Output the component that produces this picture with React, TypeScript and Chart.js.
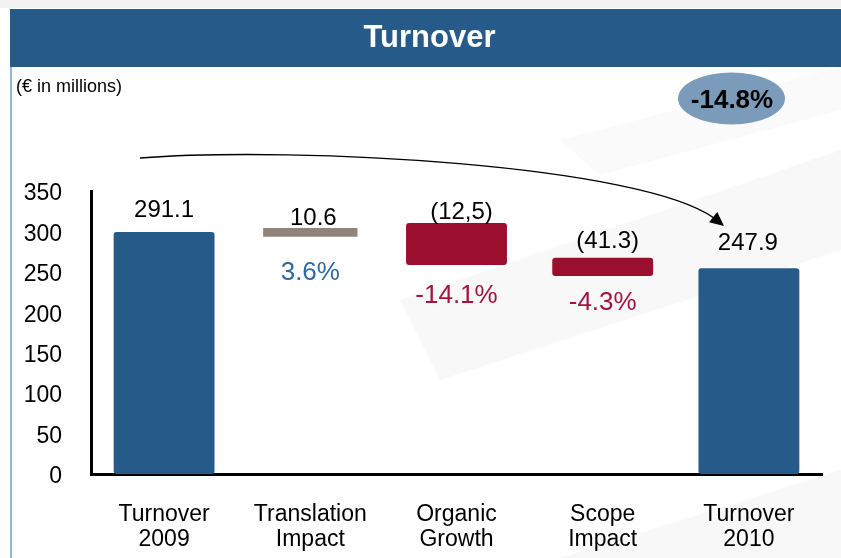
import React, { useEffect, useRef } from "react";
import { Chart, registerables } from "chart.js";

Chart.register(...registerables);

// ---- data ----
const categories: string[][] = [
  ["Turnover", "2009"],
  ["Translation", "Impact"],
  ["Organic", "Growth"],
  ["Scope", "Impact"],
  ["Turnover", "2010"],
];
const barKinds = ["total", "increase", "decrease", "decrease", "total"];
const barLow = [0, 293.5, 258.5, 245, 0];
const barHigh = [299.3, 304.2, 310.4, 267.5, 254.4];
const valueLabels = ["291.1", "10.6", "(12,5)", "(41.3)", "247.9"];
const changeLabels = [null, "3.6%", "-14.1%", "-4.3%", null];
const totalChange = "-14.8%";
const yTickValues = [0, 50, 100, 150, 200, 250, 300, 350];
const chartTitle = "Turnover";
const unitNote = "(\u20AC in millions)";

// ---- styles ----
const FONT = "'Liberation Sans', Arial, Helvetica, sans-serif";
const BLUE = "#265B89";
const GRAY = "#8F837A";
const RED = "#9B0E2D";
const kindColor: Record<string, string> = { total: BLUE, increase: GRAY, decrease: RED };
const changeColor: Record<string, string> = { increase: "#2F6A9E", decrease: "#A3143C" };
// label placement (pixel offsets from bar edges)
const valueAbove = [24, 12, 13, 18, 27];
const valueDx = [0, 3, 5, 5, -1];
const changeBelow = [0, 34, 29, 25, 0];

const decorPlugin = {
  id: "decor",
  beforeDraw(chart: any) {
    const ctx = chart.ctx as CanvasRenderingContext2D;
    const W = chart.width;
    const H = chart.height;
    ctx.save();
    ctx.fillStyle = "#ffffff";
    ctx.fillRect(0, 0, W, H);
    // faint watermark shapes
    ctx.fillStyle = "#f8f8f8";
    ctx.beginPath();
    ctx.moveTo(400, 300);
    ctx.lineTo(841, 150);
    ctx.lineTo(841, 250);
    ctx.lineTo(440, 380);
    ctx.closePath();
    ctx.fill();
    ctx.beginPath();
    ctx.moveTo(560, 558);
    ctx.lineTo(841, 470);
    ctx.lineTo(841, 558);
    ctx.closePath();
    ctx.fill();
    ctx.fillStyle = "#fafafa";
    ctx.beginPath();
    ctx.moveTo(560, 140);
    ctx.lineTo(841, 67);
    ctx.lineTo(841, 110);
    ctx.lineTo(600, 175);
    ctx.closePath();
    ctx.fill();
    // top strip
    ctx.fillStyle = "#f2f2f2";
    ctx.fillRect(0, 0, W, 8);
    // title band
    ctx.fillStyle = BLUE;
    ctx.fillRect(10, 9, W - 10, 58);
    ctx.fillStyle = "#ffffff";
    ctx.font = `bold 31px ${FONT}`;
    ctx.textAlign = "center";
    ctx.textBaseline = "alphabetic";
    ctx.fillText(chartTitle, 429.5, 47);
    // left frame line
    ctx.strokeStyle = "#6E9CC8";
    ctx.lineWidth = 1.5;
    ctx.beginPath();
    ctx.moveTo(11, 67);
    ctx.lineTo(11, H);
    ctx.stroke();
    // unit note
    ctx.fillStyle = "#000000";
    ctx.font = `18px ${FONT}`;
    ctx.textAlign = "left";
    ctx.fillText(unitNote, 16, 92);
    // ellipse with total change
    ctx.fillStyle = "#7B9BBA";
    ctx.beginPath();
    ctx.ellipse(731.5, 98.5, 53.5, 26, 0, 0, Math.PI * 2);
    ctx.fill();
    ctx.fillStyle = "#000000";
    ctx.font = `bold 26px ${FONT}`;
    ctx.textAlign = "center";
    ctx.fillText(totalChange, 732, 107.5);
    // curved arrow
    ctx.strokeStyle = "#000000";
    ctx.lineWidth = 1.4;
    ctx.beginPath();
    ctx.moveTo(140, 158);
    ctx.bezierCurveTo(300, 146, 640, 165, 714, 218);
    ctx.stroke();
    const tipX = 724, tipY = 226;
    const ang = Math.atan2(tipY - 217, tipX - 713);
    const len = 14, half = 6.5;
    const bx = tipX - len * Math.cos(ang), by = tipY - len * Math.sin(ang);
    ctx.fillStyle = "#000000";
    ctx.beginPath();
    ctx.moveTo(tipX, tipY);
    ctx.lineTo(bx + half * Math.sin(ang), by - half * Math.cos(ang));
    ctx.lineTo(bx - half * Math.sin(ang), by + half * Math.cos(ang));
    ctx.closePath();
    ctx.fill();
    ctx.restore();
  },
  afterDatasetsDraw(chart: any) {
    const ctx = chart.ctx as CanvasRenderingContext2D;
    ctx.save();
    ctx.textAlign = "center";
    ctx.textBaseline = "alphabetic";
    categories.forEach((_, i) => {
      let el: any = null;
      chart.data.datasets.forEach((ds: any, di: number) => {
        if (ds.data[i] != null) el = chart.getDatasetMeta(di).data[i];
      });
      if (!el) return;
      const top = Math.min(el.y, el.base);
      const bottom = Math.max(el.y, el.base);
      ctx.fillStyle = "#000000";
      ctx.font = `24px ${FONT}`;
      const cy = top - valueAbove[i];
      ctx.fillText(valueLabels[i], el.x + valueDx[i], cy + 8.6);
      const ch = changeLabels[i];
      if (ch) {
        ctx.fillStyle = changeColor[barKinds[i]];
        ctx.font = `26px ${FONT}`;
        const cy2 = bottom + changeBelow[i];
        ctx.fillText(ch, el.x, cy2 + 9.3);
      }
    });
    ctx.restore();
  },
};

export default function App() {
  const ref = useRef<HTMLCanvasElement | null>(null);
  useEffect(() => {
    document.body.style.margin = "0";
    const canvas = ref.current!;
    const mainData = categories.map((_, i) =>
      barKinds[i] === "increase" ? null : [barLow[i], barHigh[i]]
    );
    const incData = categories.map((_, i) =>
      barKinds[i] === "increase" ? [barLow[i], barHigh[i]] : null
    );
    const chart = new Chart(canvas, {
      type: "bar",
      data: {
        labels: categories,
        datasets: [
          {
            data: mainData as any,
            backgroundColor: barKinds.map((k) => kindColor[k]),
            borderRadius: 3,
            borderSkipped: false,
            barPercentage: 1,
            categoryPercentage: 0.69,
            grouped: false,
          } as any,
          {
            data: incData as any,
            backgroundColor: GRAY,
            borderRadius: 0,
            borderSkipped: false,
            barPercentage: 1,
            categoryPercentage: 0.645,
            grouped: false,
          } as any,
        ],
      },
      options: {
        responsive: false,
        animation: false,
        devicePixelRatio: 1,
        layout: { padding: { left: 21, top: 191, right: 19, bottom: 0 } },
        plugins: {
          legend: { display: false },
          tooltip: { enabled: false },
          title: { display: false },
        },
        scales: {
          x: {
            grid: { display: false, drawTicks: false },
            border: { display: true, color: "#000000", width: 3 },
            ticks: {
              color: "#000000",
              font: { family: FONT, size: 23, lineHeight: 1.05 },
              padding: 29,
              maxRotation: 0,
              autoSkip: false,
            },
            afterFit: (s: any) => {
              s.height = 84;
            },
          },
          y: {
            min: 0,
            max: 350,
            afterBuildTicks: (s: any) => {
              s.ticks = yTickValues.map((v) => ({ value: v }));
            },
            grid: { display: false, drawTicks: false },
            border: { display: true, color: "#000000", width: 3 },
            ticks: {
              color: "#000000",
              font: { family: FONT, size: 23 },
              padding: 29,
              labelOffset: 3,
            },
            afterFit: (s: any) => {
              s.width = 70;
            },
          },
        },
      },
      plugins: [decorPlugin],
    });
    return () => chart.destroy();
  }, []);
  return (
    <div style={{ width: 841, height: 558 }}>
      <canvas ref={ref} width={841} height={558} style={{ display: "block" }} />
    </div>
  );
}
